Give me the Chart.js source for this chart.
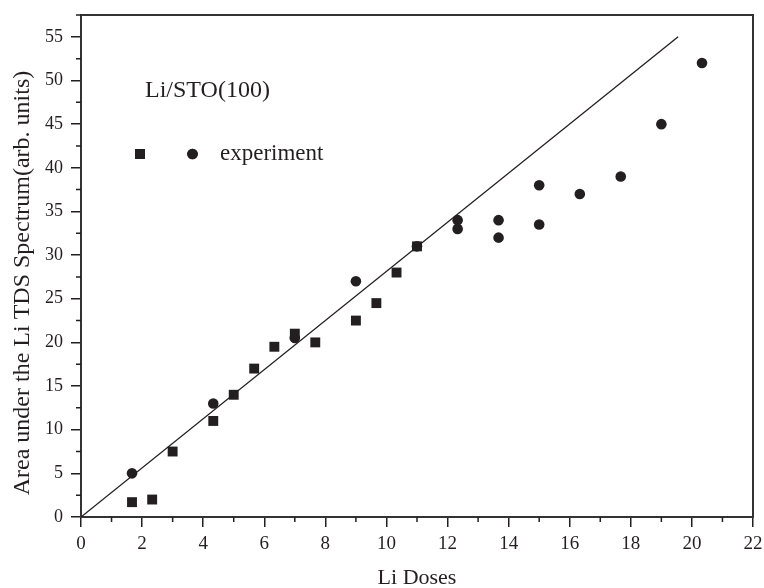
<!DOCTYPE html>
<html>
<head>
<meta charset="utf-8">
<script src="https://cdn.jsdelivr.net/npm/chart.js@4/dist/chart.umd.min.js"></script>
<style>
  body { margin: 0; background: #fff; }
  canvas { display: block; }
</style>
</head>
<body>
<canvas id="myChart" width="764" height="588"></canvas>
<script>
// Li doses and TDS areas
const squareX = [1.67, 2.33, 3, 4.33, 5, 5.67, 6.33, 7, 7.67, 9, 9.67, 10.33, 11];
const squareY = [1.7, 2, 7.5, 11, 14, 17, 19.5, 21, 20, 22.5, 24.5, 28, 31];
const circleX = [1.67, 4.33, 7, 9, 11, 12.33, 12.33, 13.67, 13.67, 15, 15, 16.33, 17.67, 19, 20.33];
const circleY = [5, 13, 20.5, 27, 31, 34, 33, 34, 32, 38, 33.5, 37, 39, 45, 52];
const fitX = [0, 19.55];
const fitY = [0, 55];
const xTicks = [0, 2, 4, 6, 8, 10, 12, 14, 16, 18, 20, 22];
const yTicks = [0, 5, 10, 15, 20, 25, 30, 35, 40, 45, 50, 55];

const ink = '#231f20';
const serif = '"Liberation Serif", "Times New Roman", serif';

function pts(xs, ys) {
  return xs.map((x, i) => ({ x: x, y: ys[i] }));
}

// minor ticks, top/right frame, y title and the in-plot legend
const extras = {
  id: 'extras',
  afterDraw(chart) {
    const ctx = chart.ctx;
    const a = chart.chartArea;
    const xs = chart.scales.x, ys = chart.scales.y;
    ctx.save();
    ctx.strokeStyle = '#333';
    ctx.lineWidth = 2;
    ctx.beginPath();
    ctx.moveTo(a.left - 1, a.top);
    ctx.lineTo(a.right, a.top);
    ctx.lineTo(a.right, a.bottom + 1);
    ctx.stroke();

    ctx.strokeStyle = ink;
    ctx.lineWidth = 1.5;
    ctx.beginPath();
    for (let i = 0; i < xTicks.length - 1; i++) {
      const px = xs.getPixelForValue((xTicks[i] + xTicks[i + 1]) / 2);
      ctx.moveTo(px, a.bottom);
      ctx.lineTo(px, a.bottom + 5);
    }
    for (let i = 0; i < yTicks.length; i++) {
      const py = ys.getPixelForValue(yTicks[i] + 2.5);
      ctx.moveTo(a.left, py);
      ctx.lineTo(a.left - 5, py);
    }
    ctx.stroke();

    ctx.fillStyle = ink;
    // y axis title, sits a bit below the axis middle in the original
    ctx.save();
    ctx.translate(23, 283);
    ctx.rotate(-Math.PI / 2);
    ctx.textAlign = 'center';
    ctx.textBaseline = 'middle';
    ctx.font = '24px ' + serif;
    ctx.fillText('Area under the Li TDS Spectrum(arb. units)', 0, 0);
    ctx.restore();

    ctx.textBaseline = 'alphabetic';
    ctx.font = '24px ' + serif;
    ctx.fillText('Li/STO(100)', a.left + 64, 97);
    ctx.font = '23px ' + serif;
    ctx.fillText('experiment', a.left + 139, 160);
    const h = Chart.helpers;
    h.drawPoint(ctx, { pointStyle: 'rect', radius: 7, borderWidth: 0 }, a.left + 59, 154);
    ctx.fill();
    h.drawPoint(ctx, { pointStyle: 'circle', radius: 5.3, borderWidth: 0 }, a.left + 111.5, 154);
    ctx.fill();
    ctx.restore();
  }
};

const ctx = document.getElementById('myChart').getContext('2d');
const myChart = new Chart(ctx, {
  type: 'scatter',
  data: {
    datasets: [
      {
        label: 'fit',
        data: pts(fitX, fitY),
        showLine: true,
        borderColor: ink,
        borderWidth: 1.3,
        pointRadius: 0
      },
      {
        label: 'squares',
        data: pts(squareX, squareY),
        pointStyle: 'rect',
        pointRadius: 7,
        backgroundColor: ink,
        borderWidth: 0
      },
      {
        label: 'experiment',
        data: pts(circleX, circleY),
        pointStyle: 'circle',
        pointRadius: 5.3,
        backgroundColor: ink,
        borderWidth: 0
      }
    ]
  },
  options: {
    responsive: false,
    animation: false,
    events: [],
    layout: { padding: { top: 15, right: 11, left: 0, bottom: 0 } },
    plugins: {
      legend: { display: false },
      tooltip: { enabled: false }
    },
    scales: {
      x: {
        type: 'linear',
        min: 0,
        max: 22,
        afterFit(scale) {
          scale.height = 71;
          scale.paddingLeft = 0;
          scale.paddingRight = 0;
        },
        border: { display: true, color: '#333', width: 2 },
        grid: { drawOnChartArea: false, drawTicks: true, tickLength: 10, color: ink, lineWidth: 1.5 },
        ticks: {
          stepSize: 2,
          padding: 6,
          color: ink,
          font: { family: serif, size: 19 }
        },
        title: {
          display: true,
          text: 'Li Doses',
          color: ink,
          font: { family: serif, size: 22 },
          padding: { top: 0, bottom: -3 }
        }
      },
      y: {
        type: 'linear',
        min: 0,
        max: 57.5,
        afterFit(scale) {
          scale.width = 81;
          scale.paddingTop = 0;
          scale.paddingBottom = 0;
        },
        border: { display: true, color: '#333', width: 2 },
        grid: { drawOnChartArea: false, drawTicks: true, tickLength: 10, color: ink, lineWidth: 1.5 },
        ticks: {
          stepSize: 5,
          includeBounds: false,
          padding: 8,
          color: ink,
          font: { family: serif, size: 18 }
        },
        title: { display: false }
      }
    }
  },
  plugins: [extras]
});
</script>
</body>
</html>
